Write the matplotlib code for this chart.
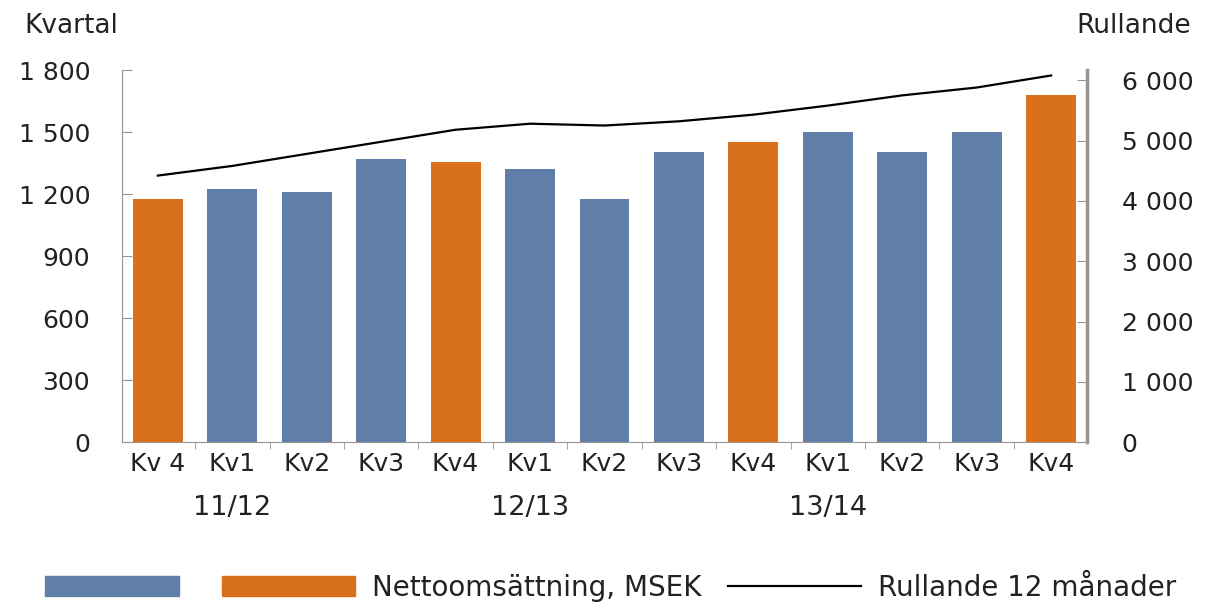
import numpy as np
import matplotlib
matplotlib.use("Agg")
import matplotlib.pyplot as plt
from matplotlib.patches import Patch
from matplotlib.lines import Line2D
from matplotlib.transforms import blended_transform_factory

# data
quarters = ["Kv 4", "Kv1", "Kv2", "Kv3", "Kv4", "Kv1", "Kv2", "Kv3", "Kv4",
            "Kv1", "Kv2", "Kv3", "Kv4"]
quarterly = [1176, 1224, 1210, 1369, 1355, 1321, 1176, 1403, 1451,
             1500, 1403, 1500, 1679]
rolling = [4420, 4580, 4780, 4980, 5180, 5280, 5250, 5320, 5430,
           5580, 5750, 5880, 6080]
highlight = [True, False, False, False, True, False, False, False, True,
             False, False, False, True]
years = ["11/12", "12/13", "13/14"]
year_pos = [1, 5, 9]

blue = "#5f7fa8"
orange = "#d8701c"
gray = "#9a948e"
txt = "#222222"

plt.rcParams["font.family"] = ["DejaVu Sans"]
fs = 18

fig = plt.figure(figsize=(12.09, 6.09), dpi=100)
ax = fig.add_axes([0.101, 0.274, 0.798, 0.611])
ax2 = ax.twinx()

x = np.arange(len(quarters))
colors = [orange if h else blue for h in highlight]
ax.bar(x, quarterly, width=0.67, color=colors, zorder=2)
ax2.plot(x, rolling, color="black", lw=1.6, zorder=3)

ax.set_xlim(-0.48, len(quarters) - 0.52)
ax.set_ylim(0, 1800)
ax.set_yticks(range(0, 1801, 300))
ax.set_yticklabels([f"{v:,}".replace(",", " ") for v in range(0, 1801, 300)])
ax2.set_ylim(0, 6170)
ax2.set_yticks(range(0, 6001, 1000))
ax2.set_yticklabels([f"{v:,}".replace(",", " ") for v in range(0, 6001, 1000)])

ax.set_xticks(x)
ax.set_xticklabels(quarters)
ax.set_xticks(np.arange(0.5, len(quarters) - 0.5), minor=True)
ax.tick_params(axis="x", which="major", length=0, pad=7, labelsize=fs,
               colors=txt)
ax.tick_params(axis="x", which="minor", length=5, direction="out", color=gray)
ax.tick_params(axis="y", direction="in", length=7, pad=23, labelsize=fs,
               colors=txt)
ax2.tick_params(axis="y", direction="in", length=7, pad=25, labelsize=fs,
                colors=txt)
for a in (ax, ax2):
    a.tick_params(axis="y", color=gray)
    a.spines["top"].set_visible(False)
ax2.spines["left"].set_visible(False)
ax2.spines["bottom"].set_visible(False)
ax.spines["right"].set_visible(False)
ax.spines["left"].set_color(gray)
ax.spines["bottom"].set_color(gray)
ax2.spines["right"].set_color(gray)
ax2.spines["right"].set_linewidth(2.5)

tr = blended_transform_factory(ax.transData, ax.transAxes)
for yr, p in zip(years, year_pos):
    ax.text(p, -0.178, yr, transform=tr, ha="center", va="center",
            fontsize=19.5, color=txt)

fig.text(0.020, 0.958, "Kvartal", fontsize=19, ha="left", va="center",
         color=txt)
fig.text(0.985, 0.958, "Rullande", fontsize=19, ha="right", va="center",
         color=txt)

handles = [Patch(color=blue), Patch(color=orange),
           Line2D([], [], color="black", lw=1.6)]
labels = ["", "Nettoomsättning, MSEK", "Rullande 12 månader"]
fig.legend(handles, labels, loc="center", bbox_to_anchor=(0.505, 0.035),
           ncol=3, frameon=False, fontsize=20, handlelength=4.8,
           handleheight=0.72, handletextpad=0.6, columnspacing=0.95,
           labelcolor=txt)

fig.savefig("out.png", dpi=100)
